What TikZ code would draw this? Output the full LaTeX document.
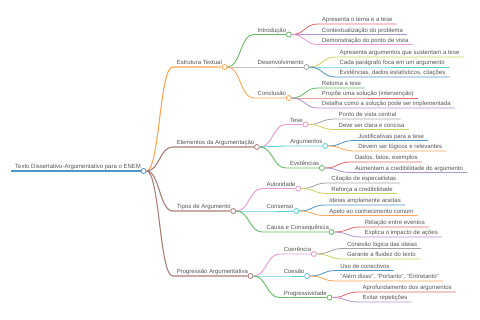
\documentclass[tikz,border=0pt]{standalone}
\usepackage{fontspec}
\setmainfont{Liberation Sans}
\usetikzlibrary{calc}
\definecolor{b0}{HTML}{1F77B4}
\definecolor{b1}{HTML}{FF7F0E}
\definecolor{b2}{HTML}{2CA02C}
\definecolor{b3}{HTML}{D62728}
\definecolor{b4}{HTML}{9467BD}
\definecolor{b5}{HTML}{8C564B}
\definecolor{b6}{HTML}{E377C2}
\definecolor{b7}{HTML}{7F7F7F}
\definecolor{b8}{HTML}{BCBD22}
\definecolor{b9}{HTML}{17BECF}
\colorlet{c0}{b0!78!white}
\colorlet{c1}{b1!70!white}
\colorlet{c2}{b2!72!white}
\colorlet{c3}{b3!70!white}
\colorlet{c4}{b4!72!white}
\colorlet{c5}{b5!75!white}
\colorlet{c6}{b6!75!white}
\colorlet{c7}{b7!72!white}
\colorlet{c8}{b8!72!white}
\colorlet{c9}{b9!72!white}
\definecolor{txtc}{HTML}{555555}
\tikzset{
  lbl/.style={font=\fontsize{6}{7}\selectfont, text=txtc, inner xsep=4pt, inner ysep=0.6pt, text height=4.4pt, text depth=1.4pt, anchor=south west},
  mmdot/.style={circle, fill=white, line width=0.8pt, minimum size=5pt, inner sep=0pt},
  lw0/.style={line width=1.3pt},
  lw1/.style={line width=1.1pt},
  lw2/.style={line width=0.9pt},
  lw3/.style={line width=0.8pt},
  mmlink/.style={to path={let \p1=(\tikztostart), \p2=(\tikztotarget) in .. controls ({0.5*\x1+0.5*\x2},\y1) and ({0.5*\x1+0.5*\x2},\y2) .. (\tikztotarget)}}
}
% inner node: name, parent, y (px), text, colour, level
\newcommand\mmInner[6]{%
  \path (#2.center) ++(29pt,0pt) coordinate (#1-t);
  \coordinate (#1-s) at (#1-t |- 0pt,-#3pt);
  \node[lbl] (#1-l) at (#1-s) {#4};
  \node[mmdot, draw=#5] (#1) at ([xshift=-1.5pt]#1-l.south east) {};
  \draw[#5, lw#6] (#2.east) to[mmlink] (#1-s) -- (#1.west);
}
% leaf: name, parent, y (px), text, colour
\newcommand\mmLeaf[5]{%
  \path (#2.center) ++(29pt,0pt) coordinate (#1-t);
  \coordinate (#1-s) at (#1-t |- 0pt,-#3pt);
  \node[lbl] (#1) at (#1-s) {#4};
  \draw[#5, lw3] (#2.east) to[mmlink] (#1-s) -- (#1.south east);
}
\begin{document}
\begin{tikzpicture}
\fill[white] (0,0) rectangle (480pt,-320pt);
\useasboundingbox (0,0) rectangle (480pt,-320pt);
% root
\coordinate (root-s) at (11pt,-171pt);
\node[lbl] (root-l) at (root-s) {Texto Dissertativo-Argumentativo para o ENEM};
\node[mmdot, draw=c0] (root) at ([xshift=-1.5pt]root-l.south east) {};
\draw[c0, lw0] (root-s) -- (root.west);
% level 1
\mmInner{est}{root}{67}{Estrutura Textual}{c1}{1}
\mmInner{ele}{root}{147}{Elementos da Argumentação}{c5}{1}
\mmInner{tip}{root}{211}{Tipos de Argumento}{c5}{1}
\mmInner{pro}{root}{276}{Progressão Argumentativa}{c5}{1}
% level 2
\mmInner{intro}{est}{34.5}{Introdução}{c2}{2}
\mmInner{des}{est}{67}{Desenvolvimento}{c7}{2}
\mmInner{con}{est}{98}{Conclusão}{c1}{2}
\mmInner{tese}{ele}{124.5}{Tese}{c6}{2}
\mmInner{arg}{ele}{146}{Argumentos}{c9}{2}
\mmInner{evi}{ele}{168}{Evidências}{c2}{2}
\mmInner{aut}{tip}{188.5}{Autoridade}{c6}{2}
\mmInner{cons}{tip}{211}{Consenso}{c9}{2}
\mmInner{cau}{tip}{232}{Causa e Consequência}{c2}{2}
\mmInner{coer}{pro}{254}{Coerência}{c6}{2}
\mmInner{coes}{pro}{276}{Coesão}{c9}{2}
\mmInner{prog}{pro}{297.5}{Progressividade}{c2}{2}
% leaves
\mmLeaf{i1}{intro}{24}{Apresenta o tema e a tese}{c3}
\mmLeaf{i2}{intro}{34.5}{Contextualização do problema}{c4}
\mmLeaf{i3}{intro}{44.5}{Demonstração do ponto de vista}{c6}
\mmLeaf{d1}{des}{57}{Apresenta argumentos que sustentam a tese}{c8}
\mmLeaf{d2}{des}{67}{Cada parágrafo foca em um argumento}{c9}
\mmLeaf{d3}{des}{77}{Evidências, dados estatísticos, citações}{c0}
\mmLeaf{k1}{con}{88}{Retoma a tese}{c2}
\mmLeaf{k2}{con}{98}{Propõe uma solução (intervenção)}{c3}
\mmLeaf{k3}{con}{108}{Detalha como a solução pode ser implementada}{c4}
\mmLeaf{t1}{tese}{119}{Ponto de vista central}{c7}
\mmLeaf{t2}{tese}{129.5}{Deve ser clara e concisa}{c8}
\mmLeaf{a1}{arg}{140.5}{Justificativas para a tese}{c0}
\mmLeaf{a2}{arg}{151}{Devem ser lógicos e relevantes}{c1}
\mmLeaf{e1}{evi}{162}{Dados, fatos, exemplos}{c3}
\mmLeaf{e2}{evi}{172.5}{Aumentam a credibilidade do argumento}{c4}
\mmLeaf{u1}{aut}{183}{Citação de especialistas}{c7}
\mmLeaf{u2}{aut}{193.5}{Reforça a credibilidade}{c8}
\mmLeaf{n1}{cons}{205}{Ideias amplamente aceitas}{c0}
\mmLeaf{n2}{cons}{215.5}{Apelo ao conhecimento comum}{c1}
\mmLeaf{q1}{cau}{227}{Relação entre eventos}{c3}
\mmLeaf{q2}{cau}{237}{Explica o impacto de ações}{c4}
\mmLeaf{r1}{coer}{248.5}{Conexão lógica das ideias}{c7}
\mmLeaf{r2}{coer}{259}{Garante a fluidez do texto}{c8}
\mmLeaf{s1}{coes}{270.5}{Uso de conectivos}{c0}
\mmLeaf{s2}{coes}{281}{"Além disso", "Portanto", "Entretanto"}{c1}
\mmLeaf{p1}{prog}{292}{Aprofundamento dos argumentos}{c3}
\mmLeaf{p2}{prog}{302}{Evitar repetições}{c4}
\end{tikzpicture}
\end{document}
